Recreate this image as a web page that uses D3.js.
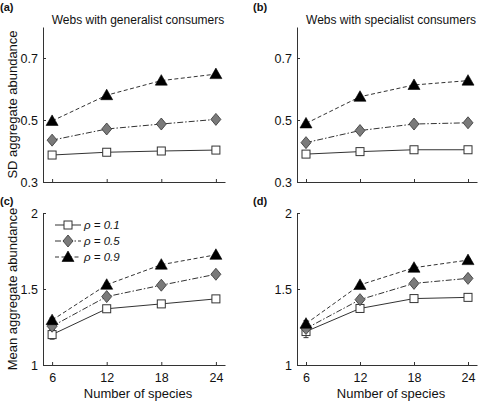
<!DOCTYPE html>
<html><head><meta charset="utf-8">
<script src="https://cdn.jsdelivr.net/npm/d3@7"></script>
<style>body{margin:0;background:#fff}svg{display:block;font-family:"Liberation Sans",Arial,sans-serif}</style>
</head><body><svg id="c" width="480" height="401"></svg>
<script>
const species = [6, 12, 18, 24];
const seriesNames = ["ρ = 0.1", "ρ = 0.5", "ρ = 0.9"];
// SD aggregate abundance, generalist (a)
const sdGen01 = [0.387, 0.396, 0.400, 0.403];
const sdGen05 = [0.435, 0.471, 0.487, 0.502];
const sdGen09 = [0.497, 0.580, 0.627, 0.648];
// SD aggregate abundance, specialist (b)
const sdSpe01 = [0.390, 0.398, 0.404, 0.404];
const sdSpe05 = [0.427, 0.466, 0.487, 0.491];
const sdSpe09 = [0.489, 0.575, 0.613, 0.627];
// Mean aggregate abundance, generalist (c)
const mnGen01 = [1.200, 1.370, 1.402, 1.435];
const mnGen05 = [1.255, 1.450, 1.525, 1.597];
const mnGen09 = [1.295, 1.528, 1.660, 1.725];
const errGen01 = [0.030, 0.015, 0.015, 0.015];
const errGen05 = [0.020, 0.012, 0.012, 0.012];
const errGen09 = [0.015, 0.010, 0.010, 0.010];
// Mean aggregate abundance, specialist (d)
const mnSpe01 = [1.220, 1.372, 1.437, 1.445];
const mnSpe05 = [1.240, 1.430, 1.537, 1.570];
const mnSpe09 = [1.272, 1.527, 1.640, 1.690];
const errSpe01 = [0.040, 0.020, 0.015, 0.012];
const errSpe05 = [0.025, 0.015, 0.015, 0.010];
const errSpe09 = [0.020, 0.010, 0.010, 0.010];

const sdTicks = [0.3, 0.5, 0.7];
const meanTicks = [1, 1.5, 2];
const titles = ["Webs with generalist consumers", "Webs with specialist consumers"];

const svg = d3.select("#c");
const axisColor = "#333";
const styles = [
  {dash: null, marker: "square"},
  {dash: "6,2,1.5,2", marker: "diamond"},
  {dash: "4,2.5", marker: "triangle"}
];

const panels = [
  {label: "(a)", lx: 0, ly: 11, x0: 43, x1: 225, yb: 182, yt: 27, dom: [0.3, 0.8], ticks: sdTicks, data: [sdGen01, sdGen05, sdGen09], title: titles[0], ylab: "SD aggregate abundance", xlabels: false},
  {label: "(b)", lx: 253, ly: 11, x0: 297, x1: 477, yb: 182, yt: 27, dom: [0.3, 0.8], ticks: sdTicks, data: [sdSpe01, sdSpe05, sdSpe09], title: titles[1], xlabels: false},
  {label: "(c)", lx: 0, ly: 205, x0: 43, x1: 225, yb: 365, yt: 213, dom: [1, 2], ticks: meanTicks, data: [mnGen01, mnGen05, mnGen09], err: [errGen01, errGen05, errGen09], ylab: "Mean aggregate abundance", xlabels: true, legend: true},
  {label: "(d)", lx: 253, ly: 205, x0: 297, x1: 477, yb: 365, yt: 213, dom: [1, 2], ticks: meanTicks, data: [mnSpe01, mnSpe05, mnSpe09], err: [errSpe01, errSpe05, errSpe09], xlabels: true}
];

function drawMarker(g, type, cx, cy) {
  if (type === "square") {
    g.append("rect").attr("x", cx - 4).attr("y", cy - 4).attr("width", 8).attr("height", 8)
      .attr("fill", "#fff").attr("stroke", "#333").attr("stroke-width", 1);
  } else if (type === "diamond") {
    g.append("path").attr("d", `M${cx},${cy-6}L${cx+5},${cy}L${cx},${cy+6}L${cx-5},${cy}Z`)
      .attr("fill", "#7a7a7a").attr("stroke", "#333").attr("stroke-width", 0.8);
  } else {
    g.append("path").attr("d", `M${cx},${cy-6}L${cx+6},${cy+4.5}L${cx-6},${cy+4.5}Z`)
      .attr("fill", "#000").attr("stroke", "#000").attr("stroke-width", 0.6);
  }
}

panels.forEach(p => {
  const x = d3.scaleLinear().domain([5, 25]).range([p.x0, p.x1]);
  const y = d3.scaleLinear().domain(p.dom).range([p.yb, p.yt]);
  const g = svg.append("g");

  const xa = d3.axisBottom(x).tickValues(species).tickSizeInner(-3).tickSizeOuter(0).tickPadding(8)
    .tickFormat(p.xlabels ? d3.format("d") : () => "");
  const gx = g.append("g").attr("transform", `translate(0,${p.yb})`).call(xa);
  const ya = d3.axisLeft(y).tickValues(p.ticks).tickSizeInner(-3).tickSizeOuter(0).tickPadding(5)
    .tickFormat(d => d === 1 || d === 2 ? d3.format("d")(d) : d3.format(".1f")(d));
  const gy = g.append("g").attr("transform", `translate(${p.x0},0)`).call(ya);
  [gx, gy].forEach(a => {
    a.select(".domain").attr("stroke", axisColor);
    a.selectAll(".tick line").attr("stroke", axisColor);
    a.selectAll(".tick text").attr("fill", "#111").attr("font-size", 12.5).attr("font-family", "Liberation Sans, Arial, sans-serif");
  });

  g.append("text").attr("x", p.lx).attr("y", p.ly).attr("font-size", 11).attr("font-weight", "bold").attr("fill", "#111").text(p.label);
  if (p.title) g.append("text").attr("x", (p.x0 + p.x1) / 2 + 4).attr("y", 24).attr("text-anchor", "middle")
    .attr("font-size", 12).attr("fill", "#111").text(p.title);
  if (p.ylab) g.append("text").attr("transform", `translate(17,${(p.yb + p.yt) / 2}) rotate(-90)`)
    .attr("text-anchor", "middle").attr("font-size", 13).attr("fill", "#111").text(p.ylab);
  if (p.xlabels) g.append("text").attr("x", (p.x0 + p.x1) / 2 + 4).attr("y", 398).attr("text-anchor", "middle")
    .attr("font-size", 13).attr("fill", "#111").text("Number of species");

  const line = d3.line().x((d, i) => x(species[i])).y(d => y(d));
  p.data.forEach((vals, si) => {
    const st = styles[si];
    g.append("path").datum(vals).attr("d", line).attr("fill", "none").attr("stroke", "#333")
      .attr("stroke-width", 1).attr("stroke-dasharray", st.dash);
  });
  if (p.err) {
    p.data.forEach((vals, si) => {
      vals.forEach((v, i) => {
        const e = p.err[si][i];
        const cx = x(species[i]);
        g.append("line").attr("x1", cx).attr("x2", cx).attr("y1", y(v - e)).attr("y2", y(v + e)).attr("stroke", "#333");
        [v - e, v + e].forEach(vv => g.append("line").attr("x1", cx - 2.5).attr("x2", cx + 2.5).attr("y1", y(vv)).attr("y2", y(vv)).attr("stroke", "#333"));
      });
    });
  }
  p.data.forEach((vals, si) => {
    vals.forEach((v, i) => drawMarker(g, styles[si].marker, x(species[i]), y(v)));
  });

  if (p.legend) {
    const lg = g.append("g");
    seriesNames.forEach((name, si) => {
      const ly = 225 + si * 16;
      lg.append("line").attr("x1", 55).attr("x2", 81).attr("y1", ly).attr("y2", ly).attr("stroke", "#333")
        .attr("stroke-dasharray", styles[si].dash);
      drawMarker(lg, styles[si].marker, 68, ly);
      lg.append("text").attr("x", 84).attr("y", ly + 4).attr("font-size", 11.5).attr("font-style", "italic")
        .attr("fill", "#111").text(name);
    });
  }
});
</script></body></html>
